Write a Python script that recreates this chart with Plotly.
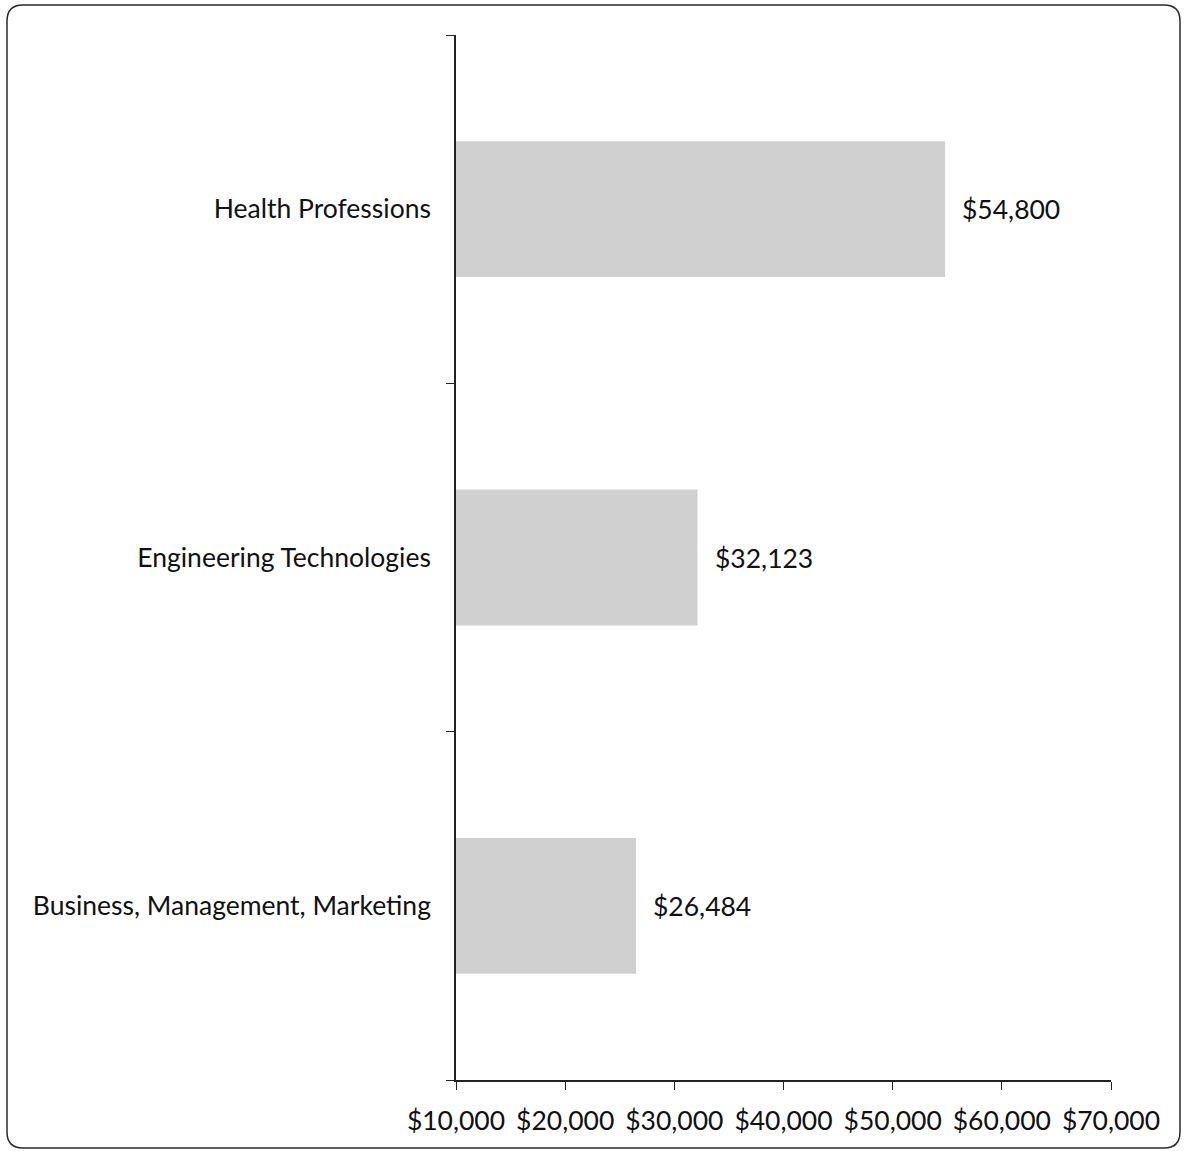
"""Horizontal bar chart: average value by program area."""
import plotly.graph_objects as go

categories = ["Business, Management, Marketing", "Engineering Technologies", "Health Professions"]
values = [26484, 32123, 54800]
x_ticks = [10000, 20000, 30000, 40000, 50000, 60000, 70000]

W, H = 1185, 1151
L, R, T, B = 456, 74, 35, 71
FONT = "Lato, 'Open Sans', sans-serif"
FS = 26.5

fig = go.Figure()
fig.add_trace(go.Bar(
    y=categories, x=[v - 10000 for v in values], base=10000, orientation="h",
    marker=dict(color="#d0d0d0", line=dict(width=0)),
    hoverinfo="skip",
))
# value labels sit a bit right of each bar end
for c, v in zip(categories, values):
    fig.add_annotation(
        x=v, y=c, text=f"${v:,}", showarrow=False,
        xanchor="left", xshift=15, font=dict(size=FS, color="#111"),
    )

# rounded frame around the whole figure (paper coordinates)
pw, ph = W - L - R, H - T - B
def px(x): return (x - L) / pw
def py(y): return (H - B - y) / ph
x0, x1, y0, y1, r = 7, 1180, 5, 1148, 16
path = (
    f"M {px(x0 + r)},{py(y0)} L {px(x1 - r)},{py(y0)} "
    f"Q {px(x1)},{py(y0)} {px(x1)},{py(y0 + r)} "
    f"L {px(x1)},{py(y1 - r)} Q {px(x1)},{py(y1)} {px(x1 - r)},{py(y1)} "
    f"L {px(x0 + r)},{py(y1)} Q {px(x0)},{py(y1)} {px(x0)},{py(y1 - r)} "
    f"L {px(x0)},{py(y0 + r)} Q {px(x0)},{py(y0)} {px(x0 + r)},{py(y0)} Z"
)
fig.add_shape(type="path", path=path, xref="paper", yref="paper",
              line=dict(color="#2a2a2a", width=1.5), layer="below")

fig.update_layout(
    width=W, height=H,
    margin=dict(l=L, r=R, t=T, b=B),
    paper_bgcolor="white", plot_bgcolor="white",
    font=dict(family=FONT, size=FS, color="#111"),
    bargap=0.61, showlegend=False,
    xaxis=dict(
        range=[10000, 70000], tickvals=x_ticks,
        ticktext=[f"${t:,}" for t in x_ticks],
        showgrid=False, zeroline=False,
        showline=True, linecolor="#222", linewidth=1.5,
        ticks="outside", ticklen=8, tickcolor="#222",
        ticklabelstandoff=8, tickfont=dict(size=FS),
    ),
    yaxis=dict(
        showgrid=False, zeroline=False,
        showline=True, linecolor="#222", linewidth=1.5,
        ticks="outside", ticklen=8, tickcolor="#222", tickson="boundaries",
        ticklabelstandoff=18, tickfont=dict(size=FS),
    ),
)

fig.write_html("out.html", config={"displayModeBar": False},
               post_script="document.body.style.margin='0';")
